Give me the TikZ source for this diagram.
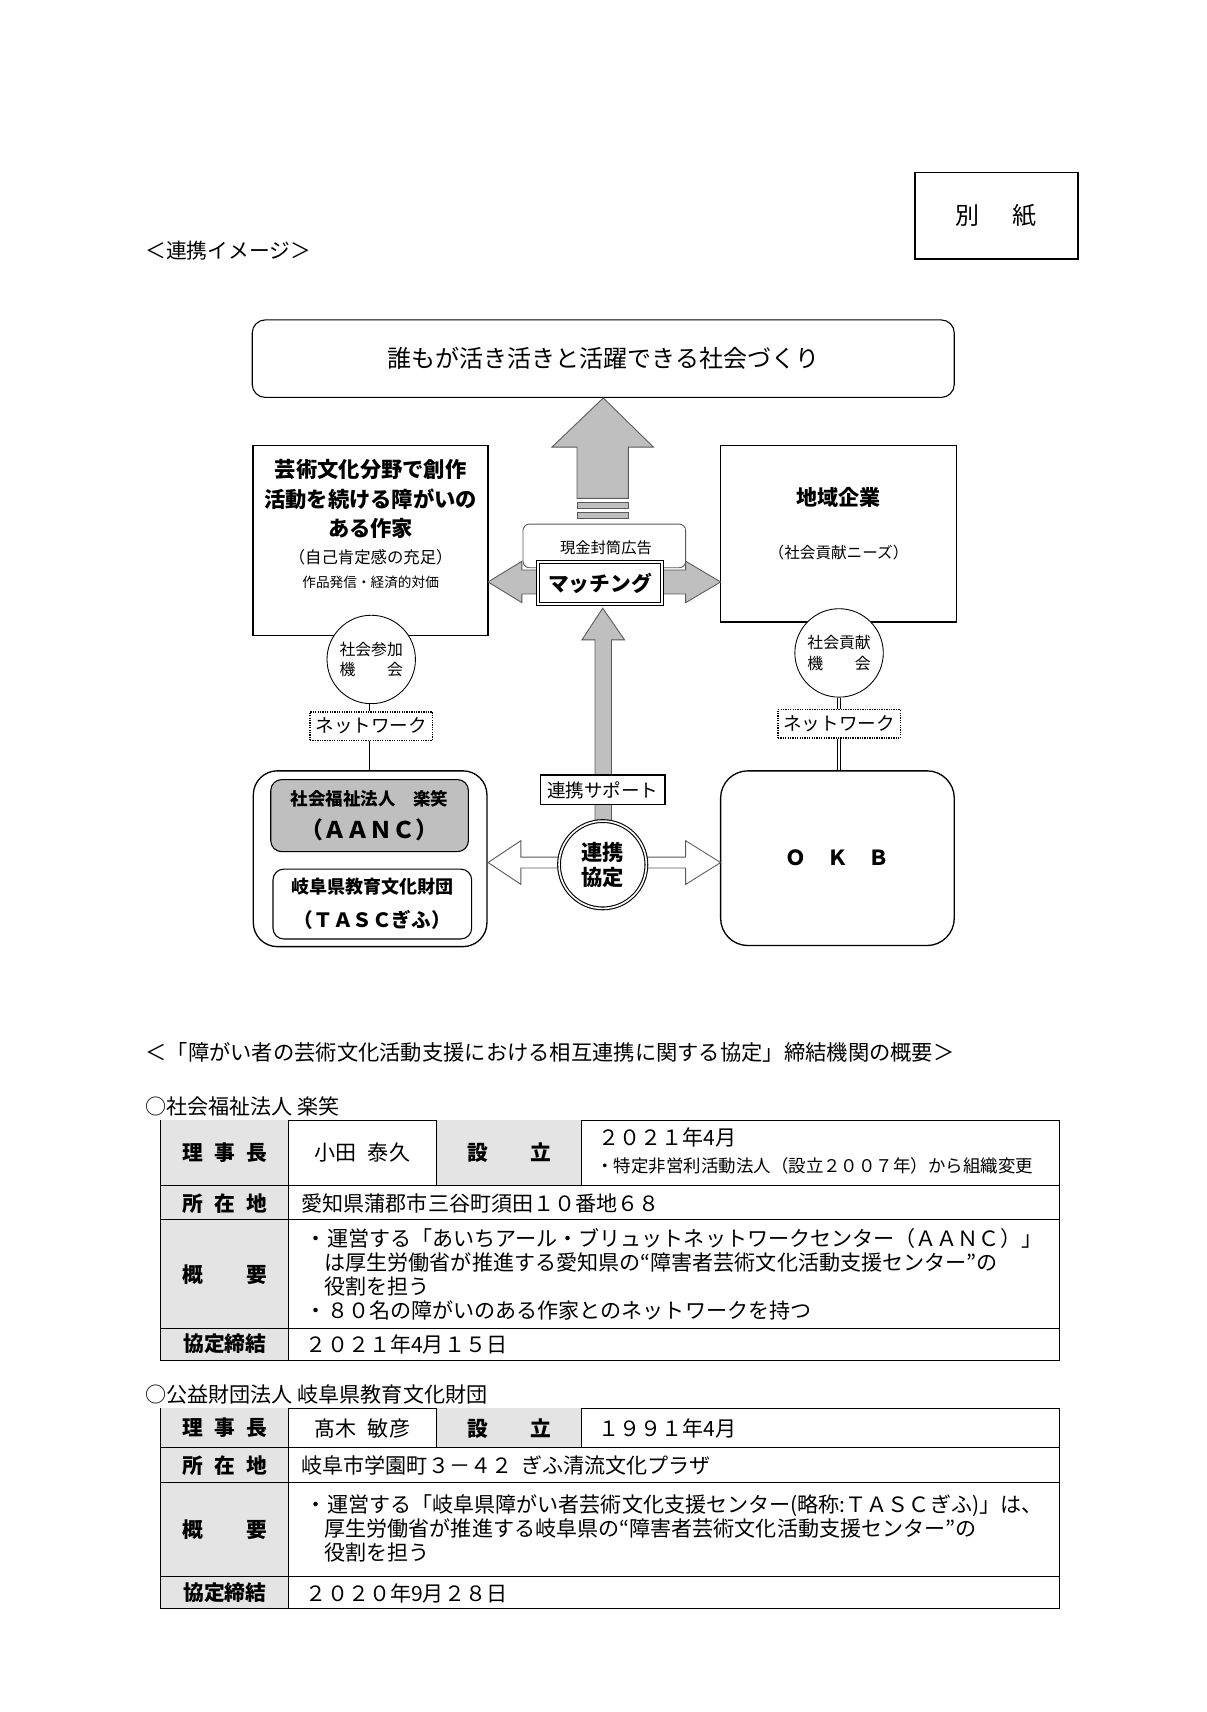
\documentclass[tikz,border=0pt]{standalone}
\usepackage{fontspec}
\setmainfont{Noto Sans CJK JP}
\usetikzlibrary{positioning,calc}
\definecolor{panelgrey}{HTML}{BFBFBF}
\definecolor{cellgrey}{HTML}{E4E4E4}
\definecolor{edgegrey}{HTML}{595959}
\newcommand{\fsz}[2]{\fontsize{#1pt}{#2pt}\selectfont}
\newcommand{\spreadtxt}[2]{\makebox[#1pt][s]{#2}}

\begin{document}
\begin{tikzpicture}[x=1pt, y=-1pt,
      sqbox/.style={draw, line width=1.6pt, fill=white, inner sep=0pt},
      rndbox/.style={draw, line width=1pt, fill=white, rounded corners=#1, inner sep=0pt},
      rndbox/.default=10pt,
      netbox/.style={draw, densely dotted, line width=1.2pt, fill=white, inner sep=0pt,
                    minimum width=112pt, minimum height=26pt, font=\fsz{17}{20}},
      ring/.style={circle, draw, line width=0.8pt, fill=white, inner sep=0pt,
                   minimum size=81pt, align=center, font=\fsz{14.5}{19}},
      blockarrow/.style={fill=panelgrey, draw=edgegrey, line width=0.8pt},
      hollowarrow/.style={fill=white, draw=edgegrey, line width=0.8pt},
      dblline/.style={double, double distance=2.5pt, line width=0.8pt},
      tabline/.style={line width=0.9pt},
      lbl/.style={font=\fsz{19}{22}\bfseries, inner sep=0pt},
      cell/.style={font=\fsz{19.3}{22}, inner sep=0pt},
      cellw/.style={cell, anchor=west}
    ]
      \useasboundingbox (0,0) rectangle (1105,1568);

      \node[sqbox, minimum width=149pt, minimum height=79pt] (bessi) at (912.5,197.5) {\fsz{22}{26}別\hspace{30pt}紙};
      \node[anchor=west, inner sep=0pt] (imgtitle) at (133,230) {\fsz{19}{22}＜連携イメージ＞};

      \node[rndbox=12pt, minimum width=643pt, minimum height=71pt] (goal) at (552.5,328.5) {\fsz{22}{26}誰もが活き活きと活躍できる社会づくり};
      \draw[blockarrow] (goal.south) -- ++(46,45) -- ++(-23,0) -- ++(0,47) -- ++(-47,0) -- ++(0,-47) -- ++(-23,0) -- cycle;
      \draw[blockarrow] (528.5,460) rectangle ++(47,6);
      \draw[blockarrow] (528.5,469) rectangle ++(47,6);

      \node[sqbox, minimum width=215pt, minimum height=174pt] (artist) at (339.5,495) {};
      \node[font=\fsz{19.5}{27}\bfseries, align=center, inner sep=0pt] (artistA) at (339.5,457) {芸術文化分野で創作\\活動を続ける障がいの\\ある作家};
      \node[inner sep=0pt] (artistB) at (339.5,510) {\fsz{15}{18}（自己肯定感の充足）};
      \node[inner sep=0pt] (artistC) at (339.5,533) {\fsz{12.5}{15}作品発信・経済的対価};

      \node[sqbox, minimum width=216pt, minimum height=162pt] (firm) at (768,489) {};
      \node[inner sep=0pt] (firmA) at (768,456) {\fsz{19.3}{22}\bfseries 地域企業};
      \node[inner sep=0pt] (firmB) at (768,506) {\fsz{14.3}{17}（社会貢献ニーズ）};

      \draw[blockarrow] (447,533) -- (478,514) -- (478,522) -- (628,522) -- (628,514) -- (660,533)
            -- (628,552) -- (628,544) -- (478,544) -- (478,552) -- cycle;
      \node[draw=edgegrey, line width=0.8pt, rounded corners=6pt, fill=white, minimum width=149pt,
            minimum height=40pt, inner sep=0pt] (adbox) at (553.5,500) {};
      \node[inner sep=0pt] (adtext) at (555,502) {\fsz{14}{16}現金封筒広告};
      \node[draw, line width=0.9pt, double, double distance=1.6pt, fill=white, minimum width=113pt,
            minimum height=38pt, inner sep=0pt] (match) at (549.5,534) {\fsz{19}{22}\bfseries マッチング};

      \draw[blockarrow] (552,557) -- (572,586) -- (560,586) -- (560,760) -- (545,760) -- (545,586) -- (533,586) -- cycle;
      \node[sqbox, line width=1.4pt, minimum width=114pt, minimum height=27pt] (supp) at (552,723.5) {\fsz{17}{20}連携サポート};

      \node[rndbox=22pt, line width=1.2pt, minimum width=214pt, minimum height=161pt] (grp) at (339,786.5) {};
      \node[draw, line width=1pt, fill=panelgrey, rounded corners=10pt, minimum width=181pt, minimum height=66pt,
            inner sep=0pt, align=center, font=\fsz{16}{31}\bfseries] (aanc) at (338.5,747) {社会福祉法人　楽笑\\{\fsz{21}{31}（ＡＡＮＣ）}};
      \node[rndbox, minimum width=182pt, minimum height=64pt, align=center,
            font=\fsz{16.5}{31}\bfseries] (tasc) at (341,828) {岐阜県教育文化財団\\{\fsz{18}{31}（ＴＡＳＣぎふ）}};
      \node[rndbox=25pt, line width=1.2pt, minimum width=214pt, minimum height=160pt] (okb) at (767,786) {\fsz{19}{22}\bfseries Ｏ　Ｋ　Ｂ};

      \node[ring] (joinC) at (340,604) {社会参加\\\spreadtxt{58}{機\hfill 会}};
      \node[ring] (giveC) at (768.5,598) {社会貢献\\\spreadtxt{58}{機\hfill 会}};
      \node[netbox] (netL) at (340,665) {ネットワーク};
      \node[netbox] (netR) at (768.5,663) {ネットワーク};
      \draw[dblline] (joinC) -- (netL);
      \draw[dblline] (netL.south) -- (netL.south |- grp.north);
      \draw[dblline] (giveC) -- (netR);
      \draw[dblline] (netR.south) -- (netR.south |- okb.north);

      \draw[hollowarrow] (447,790) -- (477,770) -- (477,785) -- (628,785) -- (628,770) -- (660,790)
            -- (628,810) -- (628,795) -- (477,795) -- (477,810) -- cycle;
      \node[circle, draw, line width=1pt, double, double distance=1.5pt, fill=white, minimum size=80pt,
            inner sep=0pt, align=center, font=\fsz{19.5}{23}\bfseries] (pact) at (552,792) {連携\\協定};

      \node[anchor=west, inner sep=0pt] (sumtitle) at (133,964) {\fsz{19.5}{22}＜「障がい者の芸術文化活動支援における相互連携に関する協定」締結機関の概要＞};

      \node[anchor=west, inner sep=0pt] (org1) at (133,1013) {\fsz{19.3}{22}○社会福祉法人 楽笑};
      \fill[cellgrey] (147,1026) rectangle (264,1246);
      \fill[cellgrey] (400,1026) rectangle (533,1086);
      \draw[tabline] (264,1026) -- (400,1026) (533,1026) -- (970,1026);
      \draw[tabline] (147,1026) -- (147,1246) -- (970,1246) -- (970,1026);
      \draw[tabline] (147,1086) -- (970,1086) (147,1117) -- (970,1117) (147,1217) -- (970,1217);
      \draw[tabline] (264,1026) -- (264,1246) (400,1026) -- (400,1086) (533,1026) -- (533,1086);
      \node[lbl] (t1chair) at (206,1056) {\spreadtxt{77}{理\hfill 事\hfill 長}};
      \node[cell] (t1chairv) at (332,1056) {小田\hspace{10pt}泰久};
      \node[lbl] (t1est) at (466.5,1056) {\spreadtxt{77}{設\hfill 立}};
      \node[cellw] (t1estv) at (548,1042) {２０２１年4月};
      \node[cellw, font=\fsz{16}{18}] (t1estn) at (546,1068) {・特定非営利活動法人（設立２００７年）から組織変更};
      \node[lbl] (t1addr) at (206,1102) {\spreadtxt{77}{所\hfill 在\hfill 地}};
      \node[cellw] (t1addrv) at (276,1102) {愛知県蒲郡市三谷町須田１０番地６８};
      \node[lbl] (t1sum) at (206,1167) {\spreadtxt{77}{概\hfill 要}};
      \node[cellw, align=left] (t1sumv) at (280,1167) {・運営する「あいちアール・ブリュットネットワークセンター（ＡＡＮＣ）」\\
            \hspace*{17pt}は厚生労働省が推進する愛知県の“障害者芸術文化活動支援センター”の\\
            \hspace*{17pt}役割を担う\\
            ・８０名の障がいのある作家とのネットワークを持つ};
      \node[lbl] (t1sign) at (206,1231) {協定締結};
      \node[cellw] (t1signv) at (280,1231) {２０２１年4月１５日};

      \node[anchor=west, inner sep=0pt] (org2) at (133,1277) {\fsz{19.3}{22}○公益財団法人 岐阜県教育文化財団};
      \fill[cellgrey] (147,1290) rectangle (264,1473);
      \fill[cellgrey] (400,1290) rectangle (533,1326);
      \draw[tabline] (264,1290) -- (400,1290) (533,1290) -- (970,1290);
      \draw[tabline] (147,1290) -- (147,1473) -- (970,1473) -- (970,1290);
      \draw[tabline] (147,1326) -- (970,1326) (147,1358) -- (970,1358) (147,1444) -- (970,1444);
      \draw[tabline] (264,1290) -- (264,1473) (400,1290) -- (400,1326) (533,1290) -- (533,1326);
      \node[lbl] (t2chair) at (206,1308) {\spreadtxt{77}{理\hfill 事\hfill 長}};
      \node[cell] (t2chairv) at (332,1308) {髙木\hspace{10pt}敏彦};
      \node[lbl] (t2est) at (466.5,1308) {\spreadtxt{77}{設\hfill 立}};
      \node[cellw] (t2estv) at (548,1308) {１９９１年4月};
      \node[lbl] (t2addr) at (206,1342) {\spreadtxt{77}{所\hfill 在\hfill 地}};
      \node[cellw] (t2addrv) at (276,1342) {岐阜市学園町３－４２\hspace{8pt}ぎふ清流文化プラザ};
      \node[lbl] (t2sum) at (206,1401) {\spreadtxt{77}{概\hfill 要}};
      \node[cellw, align=left] (t2sumv) at (280,1400) {・運営する「岐阜県障がい者芸術文化支援センター(略称:ＴＡＳＣぎふ)」は、\\
            \hspace*{17pt}厚生労働省が推進する岐阜県の“障害者芸術文化活動支援センター”の\\
            \hspace*{17pt}役割を担う};
      \node[lbl] (t2sign) at (206,1459) {協定締結};
      \node[cellw] (t2signv) at (280,1459) {２０２０年9月２８日};
    \end{tikzpicture}
\end{document}
